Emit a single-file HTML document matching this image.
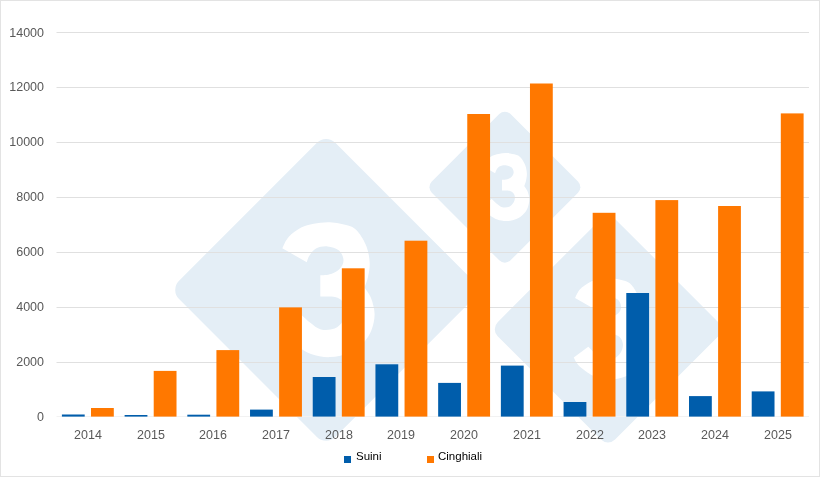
<!DOCTYPE html>
<html><head><meta charset="utf-8"><style>
html,body{margin:0;padding:0;background:#fff;}
#c{position:relative;-webkit-font-smoothing:antialiased;width:820px;height:477px;overflow:hidden;background:#fff;font-family:"Liberation Sans",sans-serif;}
#c svg{position:absolute;left:0;top:0;}
.yl{will-change:transform;position:absolute;left:0;width:44px;text-align:right;font-size:12.5px;line-height:15px;color:#595959;}
.xl{will-change:transform;position:absolute;top:428px;width:60px;text-align:center;font-size:12.5px;line-height:15px;color:#595959;}
.lg{will-change:transform;position:absolute;top:449px;font-size:11.5px;line-height:14px;color:#000;}
.sq{position:absolute;width:7px;height:7px;}
#bd{position:absolute;left:0;top:0;width:818px;height:475px;border:1px solid #E3E3E3;}
</style></head><body><div id="c">
<svg width="820" height="477" viewBox="0 0 820 477">
<rect x="215.61" y="179.41" width="220.97" height="220.97" rx="13" ry="13" fill="#E4EEF6" transform="rotate(45 326.1 289.9)"/>
<path d="M282.30 248.30C283.35 246.42 285.45 240.45 288.60 237.00C291.75 233.55 297.02 229.80 301.20 227.60C305.38 225.40 308.90 224.70 313.70 223.80C318.50 222.90 324.28 221.92 330.00 222.20C335.72 222.48 343.38 223.97 348.00 225.50C352.62 227.03 354.62 227.92 357.70 231.40C360.78 234.88 364.50 241.17 366.50 246.40C368.50 251.63 369.45 257.70 369.70 262.80C369.95 267.90 368.87 272.88 368.00 277.00C367.13 281.12 365.08 285.75 364.50 287.50C365.58 289.25 369.32 293.58 371.00 298.00C372.68 302.42 374.52 308.67 374.60 314.00C374.68 319.33 373.27 325.33 371.50 330.00C369.73 334.67 367.58 338.25 364.00 342.00C360.42 345.75 355.67 349.98 350.00 352.50C344.33 355.02 336.50 356.85 330.00 357.10C323.50 357.35 316.67 355.93 311.00 354.00C305.33 352.07 300.17 348.33 296.00 345.50C291.83 342.67 288.58 340.00 286.00 337.00C283.42 334.00 281.42 329.08 280.50 327.50L299.80 313.20C301.50 314.75 306.47 319.78 310.00 322.50C313.53 325.22 316.90 328.48 321.00 329.50C325.10 330.52 330.93 330.02 334.60 328.60C338.27 327.18 341.10 323.93 343.00 321.00C344.90 318.07 346.00 314.17 346.00 311.00C346.00 307.83 344.83 304.33 343.00 302.00C341.17 299.67 338.78 297.92 335.00 297.00C331.22 296.08 322.75 296.58 320.30 296.50L320.30 275.30C322.08 275.07 327.72 275.03 331.00 273.90C334.28 272.77 337.92 270.82 340.00 268.50C342.08 266.18 343.67 263.00 343.50 260.00C343.33 257.00 341.67 252.77 339.00 250.50C336.33 248.23 331.33 246.73 327.50 246.40C323.67 246.07 319.00 246.98 316.00 248.50C313.00 250.02 311.03 253.22 309.50 255.50C307.97 257.78 307.25 261.08 306.80 262.20Z" fill="#fff"/>
<rect x="449.22" y="131.52" width="111.37" height="111.37" rx="8" ry="8" fill="#E4EEF6" transform="rotate(45 504.9 187.2)"/>
<path d="M482.82 166.23C483.35 165.28 484.41 162.28 486.00 160.54C487.59 158.80 490.24 156.91 492.35 155.80C494.46 154.69 496.23 154.34 498.65 153.89C501.07 153.43 503.98 152.94 506.87 153.08C509.75 153.22 513.61 153.97 515.94 154.74C518.26 155.52 519.27 155.96 520.83 157.72C522.38 159.47 524.25 162.64 525.26 165.28C526.27 167.91 526.75 170.97 526.87 173.54C527.00 176.11 526.45 178.62 526.02 180.70C525.58 182.77 524.55 185.11 524.25 185.99C524.80 186.87 526.68 189.06 527.53 191.28C528.38 193.51 529.30 196.66 529.34 199.35C529.39 202.03 528.67 205.06 527.78 207.41C526.89 209.76 525.81 211.57 524.00 213.46C522.20 215.35 519.80 217.48 516.95 218.75C514.09 220.02 510.14 220.94 506.87 221.07C503.59 221.19 500.15 220.48 497.29 219.51C494.43 218.53 491.83 216.65 489.73 215.22C487.63 213.79 485.99 212.45 484.69 210.94C483.39 209.43 482.38 206.95 481.92 206.15L491.64 198.94C492.50 199.72 495.00 202.26 496.79 203.63C498.57 205.00 500.26 206.65 502.33 207.16C504.40 207.67 507.34 207.42 509.18 206.70C511.03 205.99 512.46 204.35 513.42 202.87C514.38 201.40 514.93 199.43 514.93 197.83C514.93 196.24 514.34 194.47 513.42 193.30C512.49 192.12 511.29 191.24 509.39 190.78C507.48 190.32 503.21 190.57 501.98 190.53L501.98 179.84C502.88 179.72 505.71 179.71 507.37 179.14C509.02 178.56 510.86 177.58 511.91 176.41C512.96 175.25 513.75 173.64 513.67 172.13C513.59 170.62 512.75 168.48 511.40 167.34C510.06 166.20 507.54 165.44 505.61 165.28C503.67 165.11 501.32 165.57 499.81 166.33C498.30 167.10 497.31 168.71 496.53 169.86C495.76 171.01 495.40 172.68 495.17 173.24Z" fill="#fff"/>
<rect x="524.99" y="246.19" width="166.03" height="166.03" rx="10" ry="10" fill="#E4EEF6" transform="rotate(45 608.0 329.2)"/>
<path d="M575.09 297.94C575.88 296.53 577.46 292.05 579.82 289.45C582.19 286.86 586.15 284.04 589.29 282.39C592.43 280.74 595.08 280.21 598.68 279.54C602.29 278.86 606.64 278.12 610.93 278.33C615.23 278.55 620.99 279.66 624.45 280.81C627.92 281.96 629.43 282.63 631.74 285.25C634.06 287.86 636.85 292.58 638.35 296.52C639.86 300.45 640.57 305.01 640.76 308.84C640.95 312.67 640.13 316.41 639.48 319.51C638.83 322.60 637.29 326.08 636.85 327.40C637.67 328.71 640.47 331.97 641.74 335.29C643.00 338.60 644.38 343.30 644.44 347.31C644.50 351.32 643.44 355.82 642.11 359.33C640.78 362.84 639.17 365.53 636.48 368.35C633.78 371.16 630.22 374.34 625.96 376.24C621.70 378.13 615.81 379.50 610.93 379.69C606.05 379.88 600.91 378.81 596.65 377.36C592.40 375.91 588.51 373.10 585.38 370.98C582.25 368.85 579.81 366.84 577.87 364.59C575.93 362.33 574.43 358.64 573.74 357.45L588.24 346.71C589.52 347.87 593.25 351.65 595.90 353.69C598.56 355.74 601.09 358.19 604.17 358.95C607.25 359.72 611.63 359.34 614.39 358.28C617.14 357.21 619.27 354.77 620.70 352.57C622.13 350.36 622.95 347.43 622.95 345.05C622.95 342.67 622.08 340.04 620.70 338.29C619.32 336.54 617.53 335.22 614.69 334.53C611.84 333.85 605.48 334.22 603.64 334.16L603.64 318.23C604.98 318.05 609.21 318.03 611.68 317.18C614.15 316.33 616.88 314.86 618.44 313.12C620.01 311.38 621.20 308.99 621.07 306.73C620.95 304.48 619.70 301.30 617.69 299.60C615.69 297.89 611.93 296.77 609.05 296.52C606.17 296.27 602.67 296.95 600.41 298.09C598.16 299.23 596.68 301.64 595.53 303.35C594.38 305.07 593.84 307.55 593.50 308.39Z" fill="#fff"/>
<rect x="56.5" y="32" width="752.5" height="1" fill="#E0E0E0"/>
<rect x="56.5" y="87" width="752.5" height="1" fill="#E0E0E0"/>
<rect x="56.5" y="142" width="752.5" height="1" fill="#E0E0E0"/>
<rect x="56.5" y="197" width="752.5" height="1" fill="#E0E0E0"/>
<rect x="56.5" y="252" width="752.5" height="1" fill="#E0E0E0"/>
<rect x="56.5" y="307" width="752.5" height="1" fill="#E0E0E0"/>
<rect x="56.5" y="362" width="752.5" height="1" fill="#E0E0E0"/>
<rect x="56.5" y="416" width="752.5" height="1" fill="#F2F2F2"/>
<rect x="61.90" y="414.50" width="22.8" height="2.10" fill="#005DAB"/>
<rect x="91.00" y="408.00" width="22.8" height="8.60" fill="#FF7800"/>
<rect x="124.61" y="415.00" width="22.8" height="1.60" fill="#005DAB"/>
<rect x="153.71" y="370.90" width="22.8" height="45.70" fill="#FF7800"/>
<rect x="187.32" y="414.70" width="22.8" height="1.90" fill="#005DAB"/>
<rect x="216.42" y="350.10" width="22.8" height="66.50" fill="#FF7800"/>
<rect x="250.03" y="409.60" width="22.8" height="7.00" fill="#005DAB"/>
<rect x="279.13" y="307.40" width="22.8" height="109.20" fill="#FF7800"/>
<rect x="312.74" y="377.00" width="22.8" height="39.60" fill="#005DAB"/>
<rect x="341.84" y="268.30" width="22.8" height="148.30" fill="#FF7800"/>
<rect x="375.45" y="364.30" width="22.8" height="52.30" fill="#005DAB"/>
<rect x="404.55" y="240.70" width="22.8" height="175.90" fill="#FF7800"/>
<rect x="438.16" y="382.90" width="22.8" height="33.70" fill="#005DAB"/>
<rect x="467.26" y="114.00" width="22.8" height="302.60" fill="#FF7800"/>
<rect x="500.87" y="365.60" width="22.8" height="51.00" fill="#005DAB"/>
<rect x="529.97" y="83.50" width="22.8" height="333.10" fill="#FF7800"/>
<rect x="563.58" y="402.00" width="22.8" height="14.60" fill="#005DAB"/>
<rect x="592.68" y="212.80" width="22.8" height="203.80" fill="#FF7800"/>
<rect x="626.29" y="293.00" width="22.8" height="123.60" fill="#005DAB"/>
<rect x="655.39" y="200.10" width="22.8" height="216.50" fill="#FF7800"/>
<rect x="689.00" y="396.10" width="22.8" height="20.50" fill="#005DAB"/>
<rect x="718.10" y="206.00" width="22.8" height="210.60" fill="#FF7800"/>
<rect x="751.71" y="391.40" width="22.8" height="25.20" fill="#005DAB"/>
<rect x="780.81" y="113.40" width="22.8" height="303.20" fill="#FF7800"/>
</svg>
<div class="yl" style="top:25.58px">14000</div>
<div class="yl" style="top:80.49px">12000</div>
<div class="yl" style="top:135.40px">10000</div>
<div class="yl" style="top:190.31px">8000</div>
<div class="yl" style="top:245.22px">6000</div>
<div class="yl" style="top:300.13px">4000</div>
<div class="yl" style="top:355.04px">2000</div>
<div class="yl" style="top:409.95px">0</div>
<div class="xl" style="left:57.85px">2014</div>
<div class="xl" style="left:120.56px">2015</div>
<div class="xl" style="left:183.27px">2016</div>
<div class="xl" style="left:245.98px">2017</div>
<div class="xl" style="left:308.69px">2018</div>
<div class="xl" style="left:371.40px">2019</div>
<div class="xl" style="left:434.11px">2020</div>
<div class="xl" style="left:496.82px">2021</div>
<div class="xl" style="left:559.53px">2022</div>
<div class="xl" style="left:622.24px">2023</div>
<div class="xl" style="left:684.95px">2024</div>
<div class="xl" style="left:747.66px">2025</div>
<div class="sq" style="left:344px;top:456px;background:#005DAB"></div>
<div class="lg" style="left:356px">Suini</div>
<div class="sq" style="left:427px;top:456px;background:#FF7800"></div>
<div class="lg" style="left:438px">Cinghiali</div>
<div id="bd"></div>
</div></body></html>
